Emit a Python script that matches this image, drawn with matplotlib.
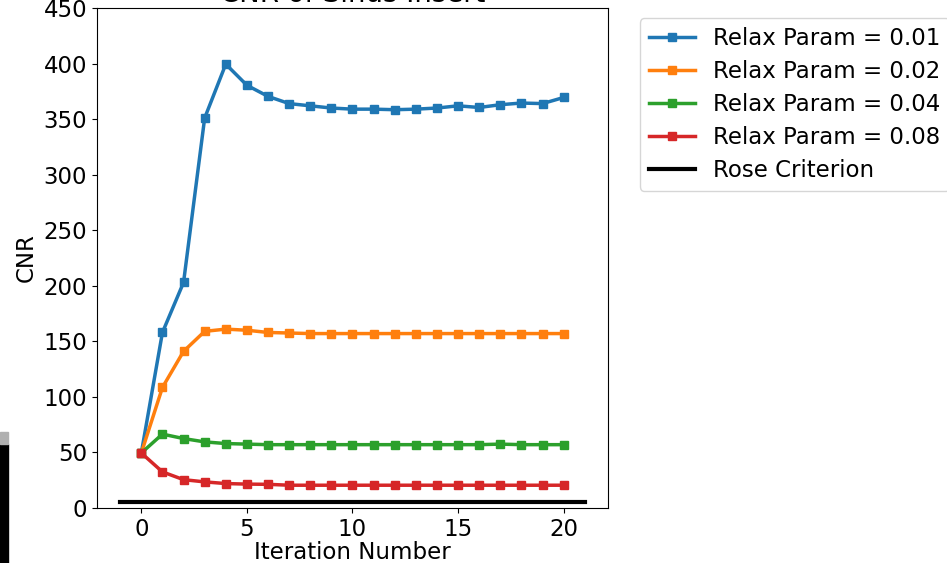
import numpy as np
import matplotlib
matplotlib.use("Agg")
import matplotlib.pyplot as plt
from matplotlib.patches import Rectangle

# iteration numbers 0..20
iterations = list(range(21))

cnr_001 = [49.5, 158, 203, 351, 399.5, 380.5, 370.5, 364, 362, 360, 359, 359, 358.5,
           359, 360, 362, 360.5, 363, 364.5, 364, 369.5]
cnr_002 = [49.5, 108.5, 141, 159, 161, 160, 158, 157.5, 157, 157, 157, 157, 157,
           157, 157, 157, 157, 157, 157, 157, 157]
cnr_004 = [49.5, 66.5, 62.5, 59.5, 58, 57.5, 57, 57, 57, 57, 57, 57, 57,
           57, 57, 57, 57, 57.5, 57, 57, 57]
cnr_008 = [49.5, 32.5, 25.5, 23.5, 22, 21.5, 21.3, 20.5, 20.5, 20.5, 20.5, 20.5, 20.5,
           20.5, 20.5, 20.5, 20.5, 20.5, 20.5, 20.5, 20.5]

relax_params = ["0.01", "0.02", "0.04", "0.08"]
rose_x = [-1, 21]
rose_y = [5, 5]


def main():
    plt.rcParams['font.size'] = 16.5
    fig = plt.figure(figsize=(9.47, 5.63), dpi=100)
    ax = fig.add_axes([0.1024, 0.0977, 0.5396, 0.888])

    for vals, p in zip([cnr_001, cnr_002, cnr_004, cnr_008], relax_params):
        ax.plot(iterations, vals, marker='s', markersize=6, linewidth=2.5,
                label="Relax Param = " + p)
    ax.plot(rose_x, rose_y, color='black', linewidth=3, label="Rose Criterion")

    ax.set_ylim(0, 450)
    ax.set_xticks([0, 5, 10, 15, 20])
    ax.set_xlabel("Iteration Number", labelpad=0)
    ax.set_ylabel("CNR")
    ax.set_title("CNR of Sinus Insert", pad=2)
    ax.legend(loc='upper left', bbox_to_anchor=(1.04, 1.003), labelspacing=0.43)

    # dark strip on left edge of the screenshot
    fig.patches.append(Rectangle((0, 0), 8 / 947, 119 / 563, transform=fig.transFigure,
                                 color='black', zorder=10))
    fig.patches.append(Rectangle((0, 119 / 563), 8 / 947, 12 / 563, transform=fig.transFigure,
                                 color='#b0b0b0', zorder=10))

    fig.savefig("out.png", dpi=100)


if __name__ == '__main__':
    main()
